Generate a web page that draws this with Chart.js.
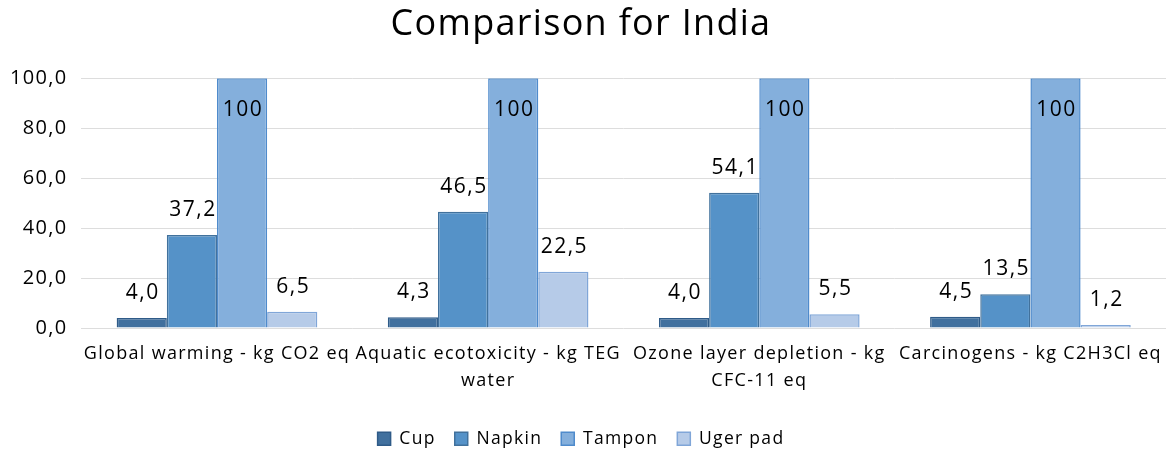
<!DOCTYPE html>
<html>
<head>
<meta charset="utf-8">
<script src="https://cdn.jsdelivr.net/npm/chart.js@4/dist/chart.umd.min.js"></script>
<style>
  html, body { margin: 0; padding: 0; background: #fff; }
  #wrap { width: 1166px; height: 452px; }
</style>
</head>
<body>
<div id="wrap"><canvas id="chart"></canvas></div>
<script>
// --- data ---
const categories = [
    'Global warming - kg CO2 eq',
    ['Aquatic ecotoxicity - kg TEG', 'water'],
    ['Ozone layer depletion - kg', 'CFC-11 eq'],
    'Carcinogens - kg C2H3Cl eq'
];
const cup = [4.0, 4.3, 4.0, 4.5];
const napkin = [37.2, 46.5, 54.1, 13.5];
const tampon = [100, 100, 100, 100];
const ugerPad = [6.5, 22.5, 5.5, 1.2];
const yTicks = [0, 20, 40, 60, 80, 100];

const fmt = v => v >= 100 ? '100' : v.toFixed(1).replace('.', ',');

// the original text is set a bit wider than Open Sans, so add letter spacing
const SPACING = '1.3px';
const spacing = {
    id: 'spacing',
    beforeUpdate(chart) { chart.ctx.letterSpacing = SPACING; },
    beforeLayout(chart) { chart.ctx.letterSpacing = SPACING; },
    beforeDraw(chart) { chart.ctx.letterSpacing = SPACING; }
};

// --- value labels above bars (inside top for full bars) ---
const valueLabels = {
    id: 'valueLabels',
    afterDatasetsDraw(chart) {
        const ctx = chart.ctx;
        ctx.save();
        ctx.letterSpacing = '1.5px';
        ctx.font = '21px "Open Sans"';
        ctx.fillStyle = '#000';
        ctx.textAlign = 'center';
        ctx.textBaseline = 'middle';
        chart.data.datasets.forEach((ds, i) => {
            chart.getDatasetMeta(i).data.forEach((bar, j) => {
                const v = ds.data[j];
                const y = v >= 100 ? bar.y + 32 : bar.y - 25;
                ctx.fillText(fmt(v), bar.x + 1, y);
            });
        });
        ctx.restore();
    }
};

const ctx = document.getElementById('chart').getContext('2d');
const chart = new Chart(ctx, {
    type: 'bar',
    data: {
        labels: categories,
        datasets: [
            { label: 'Cup', data: cup, backgroundColor: '#41709e', borderColor: '#2f5b88', borderWidth: 1.5 },
            { label: 'Napkin', data: napkin, backgroundColor: '#5592c8', borderColor: '#41719c', borderWidth: 1.5 },
            { label: 'Tampon', data: tampon, backgroundColor: '#84afdc', borderColor: '#4f8bcc', borderWidth: 1.5 },
            { label: 'Uger pad', data: ugerPad, backgroundColor: '#b6cbe8', borderColor: '#80a6d8', borderWidth: 1.5 }
        ]
    },
    options: {
        responsive: true,
        maintainAspectRatio: false,
        animation: false,
        layout: { padding: { left: -4, right: 0, top: 0, bottom: -5.5 } },
        datasets: { bar: { categoryPercentage: 0.74, barPercentage: 1.0 } },
        plugins: {
            title: {
                display: true,
                text: 'Comparison for India',
                color: '#000',
                font: { family: 'Open Sans', size: 36, weight: 'normal', lineHeight: 1.2 },
                padding: { top: 3, bottom: 32 }
            },
            legend: {
                position: 'bottom',
                labels: {
                    color: '#000',
                    font: { family: 'Open Sans', size: 17.5 },
                    boxWidth: 13,
                    boxHeight: 13,
                    padding: 19
                }
            },
            tooltip: { enabled: false }
        },
        scales: {
            x: {
                grid: { display: false, drawTicks: false },
                border: { display: false },
                ticks: {
                    color: '#000',
                    font: { family: 'Open Sans', size: 18, lineHeight: 1.5 },
                    maxRotation: 0,
                    autoSkip: false,
                    padding: 12
                },
                afterFit: s => { s.paddingLeft = 0; s.paddingRight = 0; s.height += 5; }
            },
            y: {
                min: 0,
                max: 100,
                afterBuildTicks: s => { s.ticks = yTicks.map(v => ({ value: v })); },
                grid: { color: '#dddddd', lineWidth: 1, drawTicks: false },
                border: { display: false },
                ticks: {
                    color: '#000',
                    font: { family: 'Open Sans', size: 20 },
                    padding: 14,
                    callback: v => v.toFixed(1).replace('.', ',')
                }
            }
        }
    },
    plugins: [spacing, valueLabels]
});
</script>
</body>
</html>
